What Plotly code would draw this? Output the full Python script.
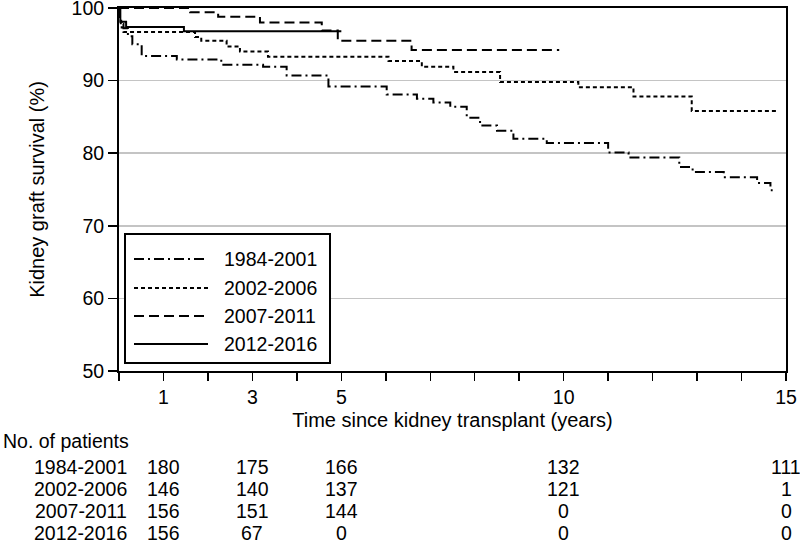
import plotly.graph_objects as go

# ---------------- data ----------------
series_names = ["1984-2001", "2002-2006", "2007-2011", "2012-2016"]

t_1984 = [0, 0.02, 0.05, 0.1, 0.2, 0.3, 0.51, 1.3, 2.3, 3.24, 3.77, 4.71, 6.02, 6.70, 7.07,
          7.45, 7.82, 8.12, 8.5, 8.87, 9.62, 11.0, 11.46, 12.6, 12.9, 13.6, 14.35, 14.65, 14.7]
s_1984 = [100, 98.9, 97.8, 97.2, 96.1, 95.0, 93.4, 92.9, 92.2, 91.9, 90.7, 89.2, 88.1, 87.5, 87.0,
          86.4, 84.9, 83.8, 83.1, 82.0, 81.4, 80.1, 79.4, 78.1, 77.4, 76.7, 75.9, 74.9, 74.9]

t_2002 = [0, 0.01, 0.02, 0.04, 0.06, 0.1, 1.71, 1.85, 2.42, 2.72, 3.35, 6.06, 6.81, 7.52, 8.57,
          10.33, 11.57, 12.88, 14.8]
s_2002 = [100, 99.3, 98.6, 97.9, 97.3, 96.7, 96.0, 95.5, 94.7, 94.0, 93.3, 92.7, 91.9, 91.2, 89.8,
          89.1, 87.8, 85.8, 85.8]

t_2007 = [0, 1.6, 2.23, 3.17, 4.56, 4.92, 6.58, 9.9]
s_2007 = [100, 99.4, 98.8, 98.0, 96.9, 95.5, 94.2, 94.2]

t_2012 = [0, 0.03, 0.16, 1.46, 5.0]
s_2012 = [100, 98.1, 97.4, 96.8, 96.8]

x_tick_vals = list(range(0, 16))
x_tick_labels = ["", "1", "", "3", "", "5", "", "", "", "", "10", "", "", "", "", "15"]
y_tick_vals = [50, 60, 70, 80, 90, 100]

table_times = [1, 3, 5, 10, 15]
n_1984 = [180, 175, 166, 132, 111]
n_2002 = [146, 140, 137, 121, 1]
n_2007 = [156, 151, 144, 0, 0]
n_2012 = [156, 67, 0, 0, 0]

# ---------------- layout helpers ----------------
W, H = 800, 543
L, R, T, B = 119, 14, 8, 172
PW, PH = W - L - R, H - T - B
FONT = "Liberation Sans, Arial, sans-serif"


def px(x):
    return (x - L) / PW


def py(y):
    return (H - B - y) / PH


times = [t_1984, t_2002, t_2007, t_2012]
surv = [s_1984, s_2002, s_2007, s_2012]
counts = [n_1984, n_2002, n_2007, n_2012]
dashes = ["10px,4px,2px,4px", "4px,3px", "10px,5px", "solid"]

fig = go.Figure()
for name, t, s, d in zip(series_names, times, surv, dashes):
    fig.add_trace(go.Scatter(x=t, y=s, mode="lines", name=name, line_shape="hv",
                             line=dict(color="black", width=2, dash=d), showlegend=False,
                             hoverinfo="skip"))

shapes = []
annotations = []

# custom legend box
shapes.append(dict(type="rect", xref="paper", yref="paper", x0=px(125), x1=px(330),
                   y0=py(363), y1=py(234), line=dict(color="black", width=2),
                   fillcolor="white", layer="above"))
legend_rows = [259, 288, 316, 344]
for name, d, yy in zip(series_names, dashes, legend_rows):
    shapes.append(dict(type="line", xref="paper", yref="paper", x0=px(134), x1=px(208),
                       y0=py(yy), y1=py(yy), line=dict(color="black", width=2, dash=d),
                       layer="above"))
    annotations.append(dict(text=name, xref="paper", yref="paper", x=px(222), y=py(yy),
                            xanchor="left", yanchor="middle", showarrow=False,
                            font=dict(size=19.5, color="black", family=FONT)))

# number-at-risk table
annotations.append(dict(text="No. of patients", xref="paper", yref="paper", x=px(1), y=py(441),
                        xanchor="left", yanchor="middle", showarrow=False,
                        font=dict(size=19.5, color="black", family=FONT)))
table_rows = [466.5, 489, 511, 532.5]
for name, cnt, yy in zip(series_names, counts, table_rows):
    annotations.append(dict(text=name, xref="paper", yref="paper", x=px(129), y=py(yy),
                            xanchor="right", yanchor="middle", showarrow=False,
                            font=dict(size=19.5, color="black", family=FONT)))
    for tt, c in zip(table_times, cnt):
        annotations.append(dict(text=str(c), xref="x", yref="paper", x=tt, y=py(yy),
                                xanchor="center", yanchor="middle", showarrow=False,
                                font=dict(size=19.5, color="black", family=FONT)))

fig.update_layout(
    width=W, height=H,
    margin=dict(l=L, r=R, t=T, b=B, autoexpand=False),
    paper_bgcolor="white", plot_bgcolor="white",
    font=dict(family=FONT, color="black", size=19.5),
    shapes=shapes, annotations=annotations,
    showlegend=False, hovermode=False,
    xaxis=dict(range=[0, 15], tickvals=x_tick_vals, ticktext=x_tick_labels,
               showline=True, linecolor="black", linewidth=2, mirror=True,
               ticks="outside", ticklen=8, tickwidth=1.5, tickcolor="black",
               showgrid=False, zeroline=False, automargin=False,
               ticklabeloverflow="allow",
               tickfont=dict(size=19.5, family=FONT, color="black"),
               title=dict(text="Time since kidney transplant (years)", standoff=6,
                          font=dict(size=20, family=FONT, color="black"))),
    yaxis=dict(range=[50, 100], tickvals=y_tick_vals,
               showline=True, linecolor="black", linewidth=2, mirror=True,
               ticks="outside", ticklen=9, tickwidth=1.5, tickcolor="black",
               showgrid=True, gridcolor="#c4c4c4", gridwidth=1.5,
               zeroline=False, automargin=False,
               ticklabeloverflow="allow",
               tickfont=dict(size=19.5, family=FONT, color="black"),
               title=dict(text="Kidney graft survival (%)", standoff=22,
                          font=dict(size=20, family=FONT, color="black"))),
)

fig.write_html("out.html", config={"displayModeBar": False, "staticPlot": True},
               post_script="document.body.style.margin='0';document.body.style.overflow='hidden';")
